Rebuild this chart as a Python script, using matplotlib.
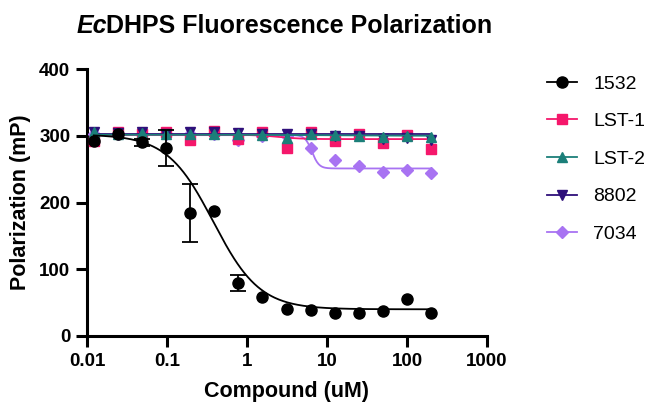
import numpy as np
import matplotlib
matplotlib.use("Agg")
import matplotlib.pyplot as plt

plt.rcParams['font.family'] = ['Liberation Sans', 'DejaVu Sans']

# two-fold dilution series (uM)
conc = [0.0122, 0.0244, 0.0488, 0.0977, 0.195, 0.39, 0.78, 1.5625,
        3.125, 6.25, 12.5, 25, 50, 100, 200]

y_1532 = [292, 302, 290, 281, 184, 187, 80, 59, 40, 39, 34, 34, 38, 56, 35]
err_1532 = [0, 0, 5, 27, 43, 0, 12, 0, 0, 0, 0, 0, 0, 0, 0]
y_lst1 = [292, 306, 303, 306, 293, 307, 295, 306, 281, 306, 292, 302, 289, 301, 280]
y_lst2 = [305, 303, 304, 303, 303, 303, 303, 301, 297, 302, 301, 299, 298, 299, 298]
y_8802 = [306, 304, 306, 303, 306, 306, 304, 303, 303, 302, 299, 299, 295, 297, 294]
y_7034 = [303, 302, 303, 302, 302, 302, 294, 300, 299, 281, 264, 254, 245, 248, 244]

# fitted curve parameters: top, bottom, IC50, hill
fit_1532 = (302, 40, 0.38, 1.5)
fit_lst1 = (301.5, 295, 2.5, 3.0)
fit_lst2 = (301.5, 300, 10, 1.0)
fit_8802 = (302, 302, 10, 1.0)
fit_7034 = (301, 251, 6.5, 10.0)

names = ['1532', 'LST-1', 'LST-2', '8802', '7034']
colors = ['#000000', '#F5176B', '#1B7F79', '#2E0F7A', '#A873F2']
markers = ['o', 's', '^', 'v', 'D']
msizes = [8, 7.5, 7.5, 7.5, 6]
values = [y_1532, y_lst1, y_lst2, y_8802, y_7034]
fits = [fit_1532, fit_lst1, fit_lst2, fit_8802, fit_7034]
zorders = [10, 5, 7, 6, 4]


def logistic(x, top, bottom, ic50, hill):
    return bottom + (top - bottom) / (1 + (x / ic50) ** hill)


fig = plt.figure(figsize=(6.52, 4.05), dpi=100)
ax = fig.add_axes([0.1334, 0.1704, 0.6135, 0.6592])

xs = np.logspace(np.log10(conc[0]), np.log10(conc[-1]), 400)
handles = []
for i in range(5):
    ax.plot(xs, logistic(xs, *fits[i]), color=colors[i], lw=1.3, zorder=zorders[i])
    if i == 0:
        e = np.array(err_1532, dtype=float)
        ax.errorbar(conc, values[i], yerr=np.where(e > 0, e, np.nan), fmt='none',
                    ecolor=colors[i], elinewidth=1.3, capsize=6, capthick=1.3,
                    zorder=zorders[i])
    ax.plot(conc, values[i], ls='none', marker=markers[i], ms=msizes[i],
            color=colors[i], mec=colors[i], zorder=zorders[i] + 0.5)
    h, = ax.plot([], [], color=colors[i], lw=1.3, marker=markers[i],
                 ms=msizes[i], label=names[i])
    handles.append(h)

ax.set_xscale('log')
ax.set_xlim(0.01, 1000)
ax.set_ylim(0, 400)
ax.set_xticks([0.01, 0.1, 1, 10, 100, 1000])
ax.set_xticklabels(['0.01', '0.1', '1', '10', '100', '1000'])
ax.xaxis.set_minor_locator(matplotlib.ticker.NullLocator())
ax.set_yticks([0, 100, 200, 300, 400])

for s in ['top', 'right']:
    ax.spines[s].set_visible(False)
for s in ['left', 'bottom']:
    ax.spines[s].set_linewidth(2.2)
ax.tick_params(width=2.2, length=8, labelsize=13.5, pad=4)
for lab in ax.get_xticklabels() + ax.get_yticklabels():
    lab.set_fontweight('bold')

ax.set_xlabel('Compound (uM)', fontsize=15.5, fontweight='bold', labelpad=8)
ax.set_ylabel('Polarization (mP)', fontsize=15.5, fontweight='bold', labelpad=6)

# title: italic "Ec" then the rest
ty = 1 - 33 / 405
t1 = fig.text(77 / 652, ty, 'Ec', fontsize=18, fontweight='bold',
              fontstyle='italic', va='baseline', ha='left')
fig.canvas.draw()
bb = t1.get_window_extent()
x2 = bb.x1 / fig.bbox.width
fig.text(x2 - 0.002, ty, 'DHPS Fluorescence Polarization', fontsize=18,
         fontweight='bold', va='baseline', ha='left')

fig.legend(handles=handles, loc='upper left', bbox_to_anchor=(0.839, 0.815),
           frameon=False, fontsize=14, handlelength=1.55, labelspacing=1.03,
           handletextpad=0.82, borderaxespad=0, borderpad=0)

fig.savefig('out.png', dpi=100)
